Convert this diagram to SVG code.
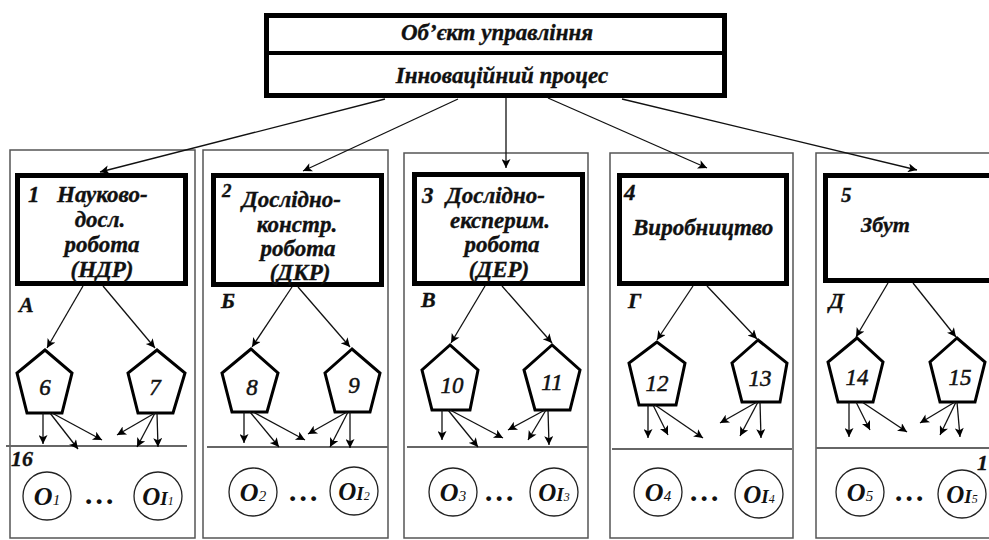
<svg xmlns="http://www.w3.org/2000/svg" width="989" height="540" viewBox="0 0 989 540">
<style>
.t{font-family:"Liberation Serif","Times New Roman",serif;font-style:italic;font-weight:bold;fill:#111;stroke:#111;stroke-width:0.35}
.bx{font-size:23px}
.num{font-family:"Liberation Serif",serif;font-style:italic;font-size:23px;fill:#111;stroke:#111;stroke-width:0.5}
.col{fill:none;stroke:#555;stroke-width:1.5}
.sep{fill:none;stroke:#666;stroke-width:1.8}
.box{fill:#fff;stroke:#000;stroke-width:5}
.pent{fill:#fff;stroke:#000;stroke-width:3;stroke-linejoin:miter}
.circ{fill:#fff;stroke:#222;stroke-width:1.3}
.ar{stroke:#111;stroke-width:1.3;fill:none;marker-end:url(#ah)}
.o{font-family:"Liberation Serif",serif;font-style:italic;font-weight:bold;fill:#111}
</style>
<defs>
<marker id="ah" viewBox="0 0 10 10" refX="10" refY="5" markerWidth="11" markerHeight="9" orient="auto" markerUnits="userSpaceOnUse">
<path d="M0,0 L10,5 L0,10 L2.5,5 z" fill="#000"/>
</marker>
</defs>
<rect width="989" height="540" fill="#fff"/>

<g id="columns">
<rect class="col" x="10" y="150" width="185" height="388"/>
<rect class="col" x="203" y="150" width="185" height="388"/>
<rect class="col" x="404" y="153" width="184" height="385"/>
<rect class="col" x="610" y="153" width="183" height="385"/>
<rect class="col" x="816" y="153" width="190" height="385"/>
<line class="sep" x1="6" y1="446" x2="187" y2="446"/>
<line class="sep" x1="207" y1="447" x2="388" y2="447"/>
<line class="sep" x1="407" y1="447" x2="588" y2="447"/>
<line class="sep" x1="612" y1="449" x2="792" y2="449"/>
<line class="sep" x1="816" y1="448" x2="989" y2="448"/>
</g>

<g id="node-top">
<rect class="box" x="266.5" y="15.5" width="458" height="80"/>
<line x1="264" y1="53" x2="727" y2="53" stroke="#000" stroke-width="4"/>
<text class="t" x="497" y="40" font-size="23" text-anchor="middle">Об’єкт управління</text>
<text class="t" x="502" y="83" font-size="23" text-anchor="middle">Інноваційний процес</text>
</g>

<g id="node-1">
<rect class="box" x="17.5" y="175.5" width="168" height="108"/>
<text class="t bx" x="28" y="202">1</text>
<text class="t bx" x="57" y="202">Науково-</text>
<text class="t bx" x="100" y="227" text-anchor="middle">досл.</text>
<text class="t bx" x="102" y="252" text-anchor="middle">робота</text>
<text class="t bx" x="102" y="277" text-anchor="middle">(НДР)</text>
</g>
<g id="node-2">
<rect class="box" x="213.5" y="175.5" width="168" height="109"/>
<text class="t" font-size="19" x="222" y="197">2</text>
<text class="t bx" x="242" y="207">Дослідно-</text>
<text class="t bx" x="297" y="232" text-anchor="middle">констр.</text>
<text class="t bx" x="298" y="256" text-anchor="middle">робота</text>
<text class="t bx" x="300" y="280" text-anchor="middle">(ДКР)</text>
</g>
<g id="node-3">
<rect class="box" x="414.5" y="174.5" width="168" height="109"/>
<text class="t bx" x="422" y="203">3</text>
<text class="t bx" x="446" y="203">Дослідно-</text>
<text class="t bx" x="500" y="228" text-anchor="middle">експерим.</text>
<text class="t bx" x="502" y="252" text-anchor="middle">робота</text>
<text class="t bx" x="499" y="277" text-anchor="middle">(ДЕР)</text>
</g>
<g id="node-4">
<rect class="box" x="619.5" y="175.5" width="167" height="108"/>
<text class="t bx" x="624" y="200">4</text>
<text class="t bx" x="633" y="235">Виробництво</text>
</g>
<g id="node-5">
<rect class="box" x="825.5" y="175.5" width="200" height="105"/>
<text class="t" font-size="21" x="841" y="202">5</text>
<text class="t" font-size="22" x="861" y="232">Збут</text>
</g>

<g id="labels">
<text class="t" font-size="22" x="19" y="312">А</text>
<text class="t" font-size="22" x="221" y="308">Б</text>
<text class="t" font-size="22" x="421" y="307">В</text>
<text class="t" font-size="22" x="628" y="308">Г</text>
<text class="t" font-size="22" x="829" y="308">Д</text>
<text class="t" font-size="22" x="11" y="466">16</text>
<text class="t" font-size="22" x="977" y="470">1</text>
</g>

<g id="node-6"><polygon class="pent" points="45,350 17,373 27,413 62,413 72,373"/><text class="num" x="45" y="395" text-anchor="middle">6</text></g>
<g id="node-7"><polygon class="pent" points="157,350 128,373 138,413 173,413 185,373"/><text class="num" x="155" y="395" text-anchor="middle">7</text></g>
<g id="node-8"><polygon class="pent" points="251,349 222,373 232,412 267,412 278,373"/><text class="num" x="252" y="395" text-anchor="middle">8</text></g>
<g id="node-9"><polygon class="pent" points="352,349 325,373 335,412 370,412 380,373"/><text class="num" x="354" y="393" text-anchor="middle">9</text></g>
<g id="node-10"><polygon class="pent" points="450,345 422,370 432,410 470,410 478,370"/><text class="num" x="452" y="393" text-anchor="middle">10</text></g>
<g id="node-11"><polygon class="pent" points="552,345 524,370 535,410 570,410 580,370"/><text class="num" x="552" y="390" text-anchor="middle">11</text></g>
<g id="node-12"><polygon class="pent" points="657,342 629,363 639,405 676,405 685,363"/><text class="num" x="657" y="391" text-anchor="middle">12</text></g>
<g id="node-13"><polygon class="pent" points="758,340 732,363 742,402 780,402 787,363"/><text class="num" x="760" y="386" text-anchor="middle">13</text></g>
<g id="node-14"><polygon class="pent" points="857,338 828,362 838,402 873,402 883,362"/><text class="num" x="857" y="385" text-anchor="middle">14</text></g>
<g id="node-15"><polygon class="pent" points="957,338 930,362 940,402 975,402 985,362"/><text class="num" x="960" y="385" text-anchor="middle">15</text></g>

<g id="node-o1"><circle class="circ" cx="47" cy="496" r="24"/><text class="o" x="47" y="505" text-anchor="middle"><tspan font-size="26">O</tspan><tspan font-size="15" font-weight="normal">1</tspan></text></g>
<g id="node-ol1"><circle class="circ" cx="158" cy="496" r="24"/><text class="o" x="158" y="505" text-anchor="middle"><tspan font-size="25">O</tspan><tspan font-size="19">I</tspan><tspan font-size="12" font-weight="normal">1</tspan></text></g>
<g id="node-o2"><circle class="circ" cx="253" cy="492" r="24"/><text class="o" x="253" y="501" text-anchor="middle"><tspan font-size="26">O</tspan><tspan font-size="15" font-weight="normal">2</tspan></text></g>
<g id="node-ol2"><circle class="circ" cx="354" cy="491" r="24"/><text class="o" x="354" y="500" text-anchor="middle"><tspan font-size="25">O</tspan><tspan font-size="19">I</tspan><tspan font-size="12" font-weight="normal">2</tspan></text></g>
<g id="node-o3"><circle class="circ" cx="453" cy="492" r="24"/><text class="o" x="453" y="501" text-anchor="middle"><tspan font-size="26">O</tspan><tspan font-size="15" font-weight="normal">3</tspan></text></g>
<g id="node-ol3"><circle class="circ" cx="554" cy="492" r="24"/><text class="o" x="554" y="501" text-anchor="middle"><tspan font-size="25">O</tspan><tspan font-size="19">I</tspan><tspan font-size="12" font-weight="normal">3</tspan></text></g>
<g id="node-o4"><circle class="circ" cx="658" cy="492" r="24"/><text class="o" x="658" y="501" text-anchor="middle"><tspan font-size="26">O</tspan><tspan font-size="15" font-weight="normal">4</tspan></text></g>
<g id="node-ol4"><circle class="circ" cx="759" cy="494" r="24"/><text class="o" x="759" y="503" text-anchor="middle"><tspan font-size="25">O</tspan><tspan font-size="19">I</tspan><tspan font-size="12" font-weight="normal">4</tspan></text></g>
<g id="node-o5"><circle class="circ" cx="860" cy="492" r="24"/><text class="o" x="860" y="501" text-anchor="middle"><tspan font-size="26">O</tspan><tspan font-size="15" font-weight="normal">5</tspan></text></g>
<g id="node-ol5"><circle class="circ" cx="962" cy="494" r="24"/><text class="o" x="962" y="503" text-anchor="middle"><tspan font-size="25">O</tspan><tspan font-size="19">I</tspan><tspan font-size="12" font-weight="normal">5</tspan></text></g>

<g id="dots" class="o" font-size="30" letter-spacing="3">
<text x="86" y="504">...</text>
<text x="290" y="501">...</text>
<text x="486" y="501">...</text>
<text x="691" y="501">...</text>
<text x="896" y="501">...</text>
</g>

<g id="connectors">
<line class="ar" x1="385" y1="99" x2="100" y2="172"/>
<line class="ar" x1="458" y1="99" x2="303" y2="171"/>
<line class="ar" x1="506" y1="98" x2="506" y2="168"/>
<line class="ar" x1="548" y1="98" x2="707" y2="168"/>
<line class="ar" x1="622" y1="99" x2="917" y2="170"/>

<line class="ar" x1="83" y1="286" x2="47" y2="348"/>
<line class="ar" x1="103" y1="286" x2="155" y2="348"/>
<line class="ar" x1="292" y1="287" x2="252" y2="347"/>
<line class="ar" x1="298" y1="287" x2="350" y2="347"/>
<line class="ar" x1="485" y1="286" x2="451" y2="343"/>
<line class="ar" x1="502" y1="286" x2="552" y2="343"/>
<line class="ar" x1="693" y1="286" x2="657" y2="340"/>
<line class="ar" x1="707" y1="286" x2="757" y2="339"/>
<line class="ar" x1="888" y1="283" x2="856" y2="337"/>
<line class="ar" x1="913" y1="283" x2="956" y2="337"/>

<line class="ar" x1="43" y1="413" x2="43" y2="444"/>
<line class="ar" x1="50" y1="413" x2="78" y2="449"/>
<line class="ar" x1="52" y1="413" x2="102" y2="440"/>
<line class="ar" x1="157" y1="413" x2="158" y2="447"/>
<line class="ar" x1="155" y1="413" x2="137" y2="447"/>
<line class="ar" x1="155" y1="413" x2="117" y2="435"/>

<line class="ar" x1="244" y1="412" x2="244" y2="443"/>
<line class="ar" x1="250" y1="412" x2="279" y2="447"/>
<line class="ar" x1="253" y1="412" x2="305" y2="440"/>
<line class="ar" x1="350" y1="412" x2="350" y2="448"/>
<line class="ar" x1="348" y1="412" x2="330" y2="447"/>
<line class="ar" x1="347" y1="412" x2="308" y2="434"/>

<line class="ar" x1="442" y1="410" x2="442" y2="440"/>
<line class="ar" x1="448" y1="410" x2="478" y2="447"/>
<line class="ar" x1="450" y1="410" x2="503" y2="438"/>
<line class="ar" x1="548" y1="410" x2="549" y2="445"/>
<line class="ar" x1="546" y1="410" x2="528" y2="440"/>
<line class="ar" x1="545" y1="410" x2="508" y2="430"/>

<line class="ar" x1="648" y1="405" x2="648" y2="438"/>
<line class="ar" x1="653" y1="405" x2="668" y2="435"/>
<line class="ar" x1="655" y1="405" x2="703" y2="438"/>
<line class="ar" x1="760" y1="402" x2="761" y2="438"/>
<line class="ar" x1="758" y1="402" x2="740" y2="436"/>
<line class="ar" x1="757" y1="402" x2="720" y2="423"/>

<line class="ar" x1="849" y1="402" x2="849" y2="437"/>
<line class="ar" x1="856" y1="402" x2="870" y2="430"/>
<line class="ar" x1="862" y1="402" x2="907" y2="432"/>
<line class="ar" x1="957" y1="402" x2="960" y2="437"/>
<line class="ar" x1="956" y1="402" x2="940" y2="435"/>
<line class="ar" x1="955" y1="402" x2="920" y2="423"/>
</g>
</svg>
